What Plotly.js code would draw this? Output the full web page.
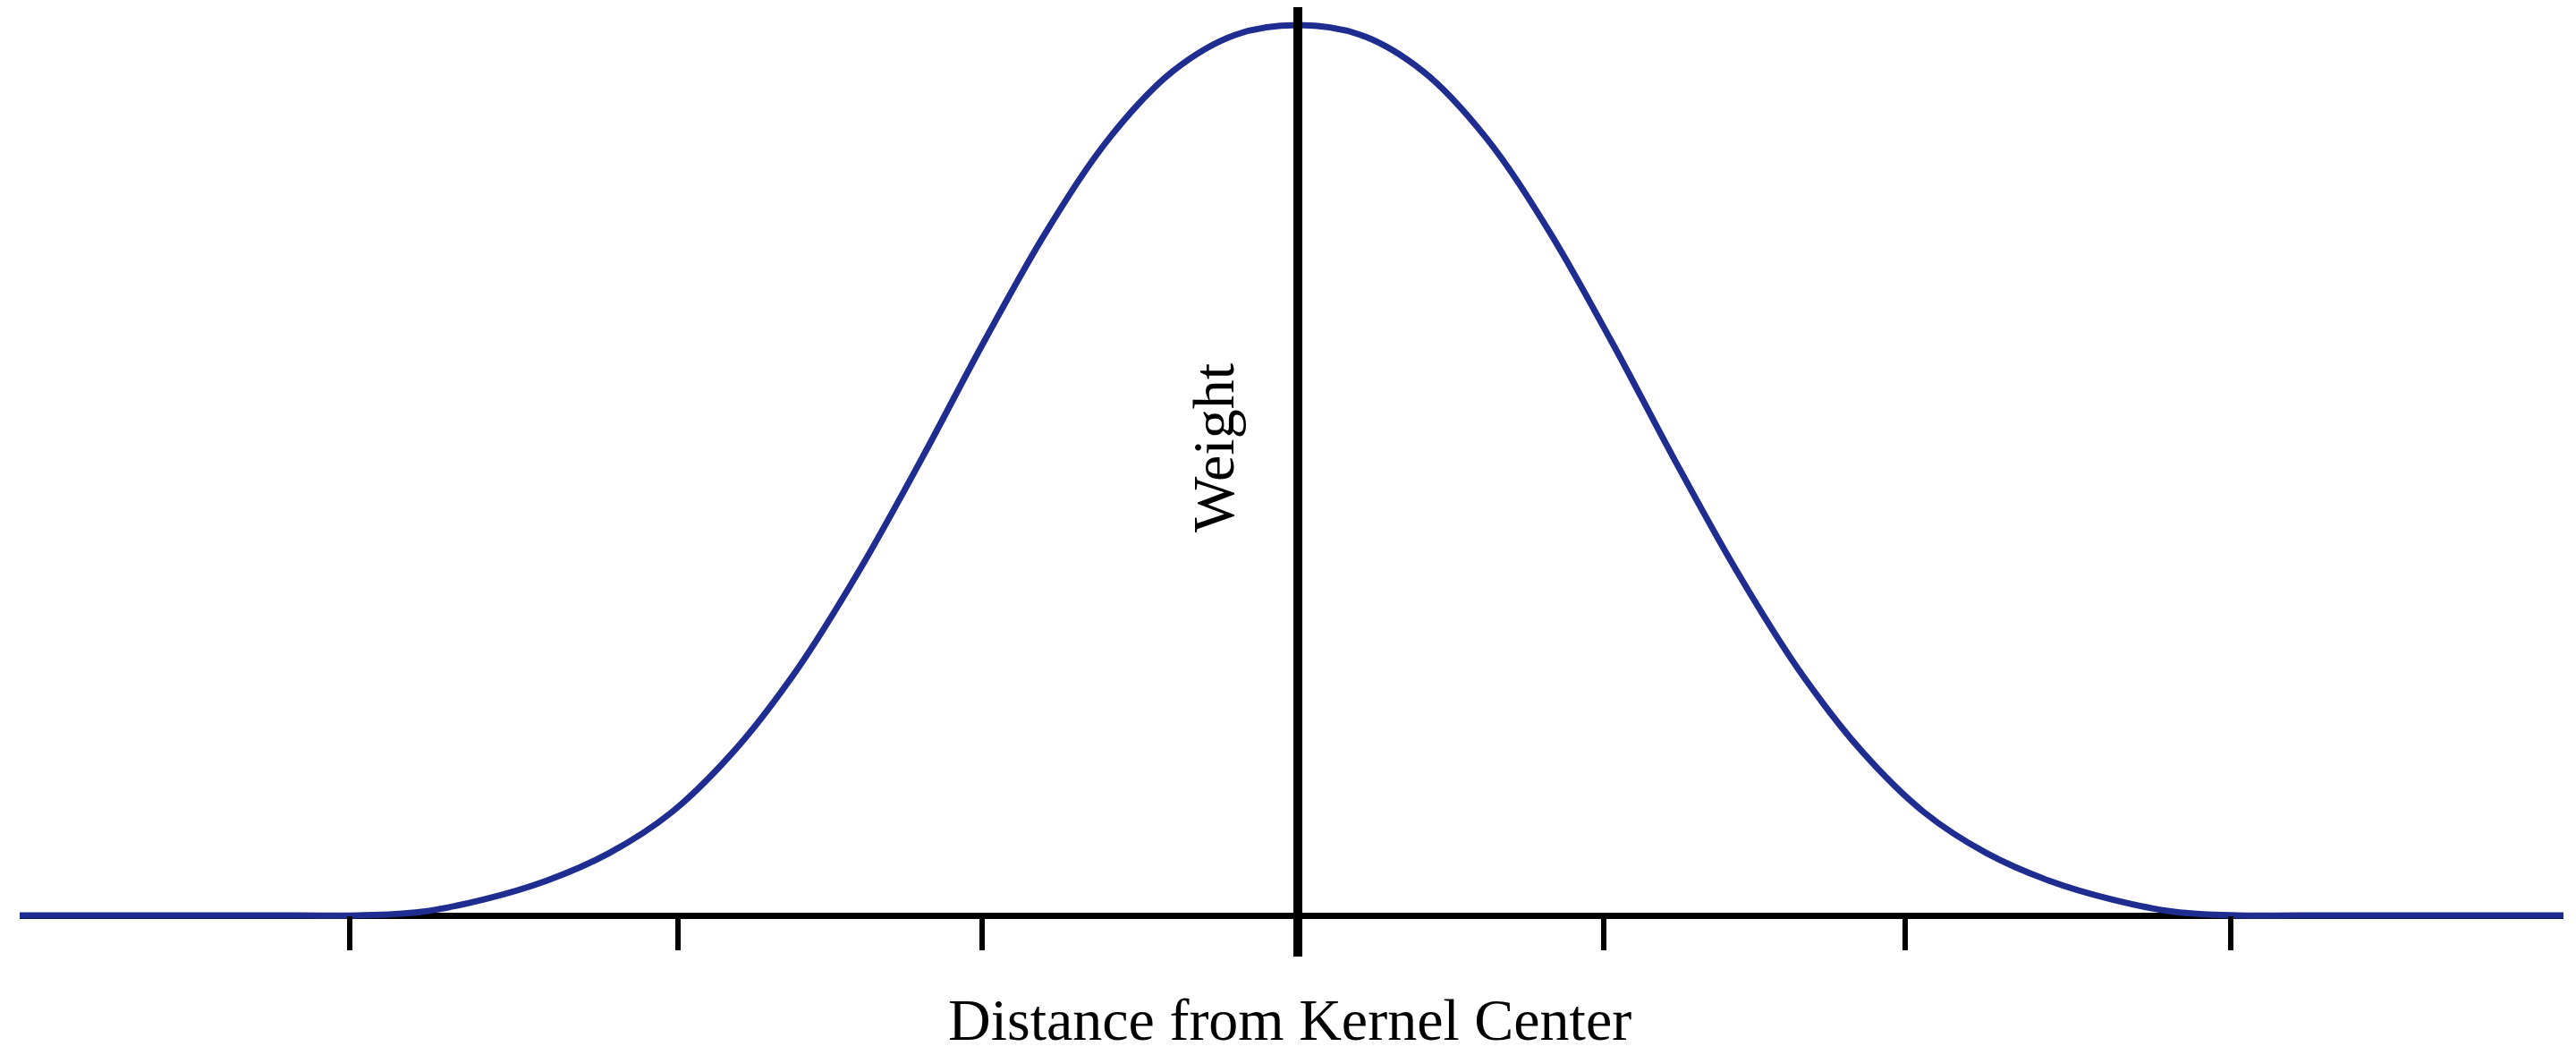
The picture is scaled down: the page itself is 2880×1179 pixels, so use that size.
<!DOCTYPE html>
<html>
<head>
<meta charset="utf-8">
<script src="https://cdn.plot.ly/plotly-3.0.1.min.js"></script>
<style>
  html, body { margin: 0; padding: 0; background: #fff; }
  #plot { width: 2880px; height: 1179px; }
</style>
</head>
<body>
<div id="plot"></div>
<script>
// distance from the kernel centre (one unit = one tick step) and the weight
const distance = [-4.083, -3.6, -3.2, -3.0, -2.8, -2.6, -2.4, -2.2, -2.0, -1.8, -1.6, -1.4, -1.2, -1.0,
                  -0.8, -0.6, -0.4, -0.2, 0, 0.2, 0.4, 0.6, 0.8, 1.0, 1.2, 1.4, 1.6, 1.8, 2.0,
                  2.2, 2.4, 2.6, 2.8, 3.0, 3.2, 3.6, 4.043];
const weight = [0, 0, 0, 0, 0.004, 0.018, 0.039, 0.07, 0.116, 0.185, 0.276, 0.388, 0.514, 0.646,
                0.77, 0.874, 0.948, 0.989, 1.0, 0.989, 0.948, 0.874, 0.77, 0.646, 0.514, 0.388, 0.276, 0.185, 0.116,
                0.07, 0.039, 0.018, 0.004, 0, 0, 0, 0];

// tick marks sit a little unevenly in the original drawing
const tickPositions = [-3.03, -1.98, -1.01, 0, 0.977, 1.94, 2.98];

const xLabel = 'Distance from Kernel Center';
const yLabel = 'Weight';

const serif = 'Liberation Serif, Times New Roman, serif';

const data = [{
  x: distance,
  y: weight,
  type: 'scatter',
  mode: 'lines',
  line: { color: '#1f2d91', width: 7, shape: 'spline', smoothing: 1 },
  hoverinfo: 'x+y'
}];

const layout = {
  width: 2880,
  height: 1179,
  margin: { l: 22, r: 14, t: 8, b: 110 },
  paper_bgcolor: '#ffffff',
  plot_bgcolor: '#ffffff',
  showlegend: false,
  xaxis: {
    range: [-4.083, 4.043],
    showgrid: false,
    showline: false,
    zeroline: true,
    zerolinecolor: '#000000',
    zerolinewidth: 10,
    zerolinelayer: 'above traces',
    anchor: 'free',
    position: 0.0434,
    ticks: 'outside',
    tickmode: 'array',
    tickvals: tickPositions,
    ticklen: 38,
    tickwidth: 6,
    tickcolor: '#000000',
    showticklabels: false
  },
  yaxis: {
    range: [-0.0462, 1.0201],
    showgrid: false,
    showline: false,
    zeroline: true,
    zerolinecolor: '#000000',
    zerolinewidth: 7,
    ticks: '',
    showticklabels: false
  },
  annotations: [
    {
      text: yLabel,
      xref: 'paper', yref: 'paper',
      x: 0.4694, y: 0.5363,
      xanchor: 'center', yanchor: 'middle',
      textangle: -90,
      showarrow: false,
      font: { family: serif, size: 66, color: '#000000' }
    },
    {
      text: xLabel,
      xref: 'paper', yref: 'paper',
      x: 0.4993, y: -0.066,
      xanchor: 'center', yanchor: 'middle',
      showarrow: false,
      font: { family: serif, size: 66, color: '#000000' }
    }
  ]
};

Plotly.newPlot('plot', data, layout, { displayModeBar: false, staticPlot: true });
</script>
</body>
</html>
